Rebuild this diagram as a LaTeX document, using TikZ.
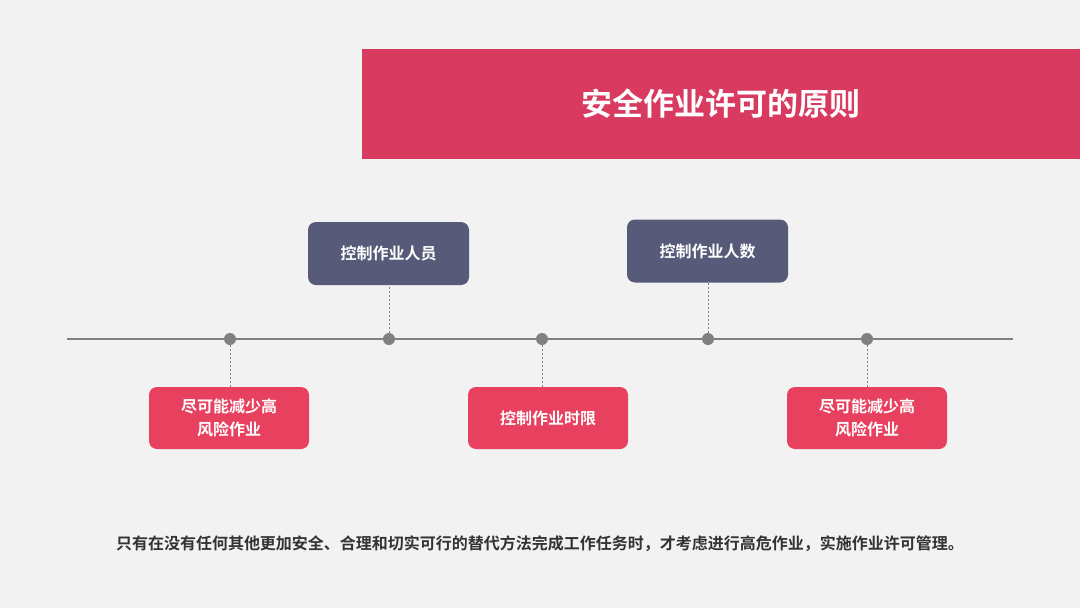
\documentclass[tikz,border=0pt]{standalone}
\usepackage{fontspec}
\setmainfont{Noto Sans CJK SC}
\newfontfamily\cjkb{Noto Sans CJK SC Bold}
\definecolor{bgc}{HTML}{F2F2F2}
\definecolor{titlec}{HTML}{D93A60}
\definecolor{navyc}{HTML}{575A78}
\definecolor{pinkc}{HTML}{E8415F}
\definecolor{linec}{HTML}{808080}
\definecolor{txtc}{HTML}{333333}
\tikzset{
  topbox/.style={fill=navyc, rounded corners=8pt, minimum width=161pt, minimum height=63pt, inner sep=0pt, text=white, font=\cjkb\fontsize{16pt}{22pt}\selectfont, align=center},
  botbox/.style={fill=pinkc, rounded corners=8pt, minimum width=160pt, minimum height=62pt, inner sep=0pt, text=white, font=\cjkb\fontsize{16pt}{23pt}\selectfont, align=center},
  dotc/.style={circle, fill=linec, minimum size=12pt, inner sep=0pt},
  conn/.style={draw=linec, dashed, dash pattern=on 2pt off 2pt, line width=0.8pt}
}
\begin{document}
\begin{tikzpicture}[x=1pt,y=-1pt]
\fill[bgc] (0,0) rectangle (1080,608);
\useasboundingbox (0,0) rectangle (1080,608);
\fill[titlec] (362,49) rectangle (1080,159);
\node[text=white, font=\cjkb\fontsize{31pt}{36pt}\selectfont] (title) at (721,104) {安全作业许可的原则};
\coordinate (L) at (67,339);
\coordinate (R) at (1013,339);
\draw[linec, line width=2.5pt] (L) -- (R);
\node[dotc] (d1) at (230,339) {};
\node[dotc] (d2) at (389,339) {};
\node[dotc] (d3) at (542,339) {};
\node[dotc] (d4) at (708,339) {};
\node[dotc] (d5) at (867,339) {};
\node[topbox] (t1) at (388.5,253.5) {控制作业人员};
\node[topbox] (t2) at (707.5,251) {控制作业人数};
\node[botbox] (b1) at (229,418) {尽可能减少高\\风险作业};
\node[botbox] (b2) at (548,418) {控制作业时限};
\node[botbox] (b3) at (867,418) {尽可能减少高\\风险作业};
\draw[conn] (d1) -- (d1 |- b1.north);
\draw[conn] (d2) -- (d2 |- t1.south);
\draw[conn] (d3) -- (d3 |- b2.north);
\draw[conn] (d4) -- (d4 |- t2.south);
\draw[conn] (d5) -- (b3.north);
\node[text=txtc, font=\cjkb\fontsize{16pt}{20pt}\selectfont] (foot) at (540,544) {只有在没有任何其他更加安全、合理和切实可行的替代方法完成工作任务时，才考虑进行高危作业，实施作业许可管理。};
\end{tikzpicture}
\end{document}
